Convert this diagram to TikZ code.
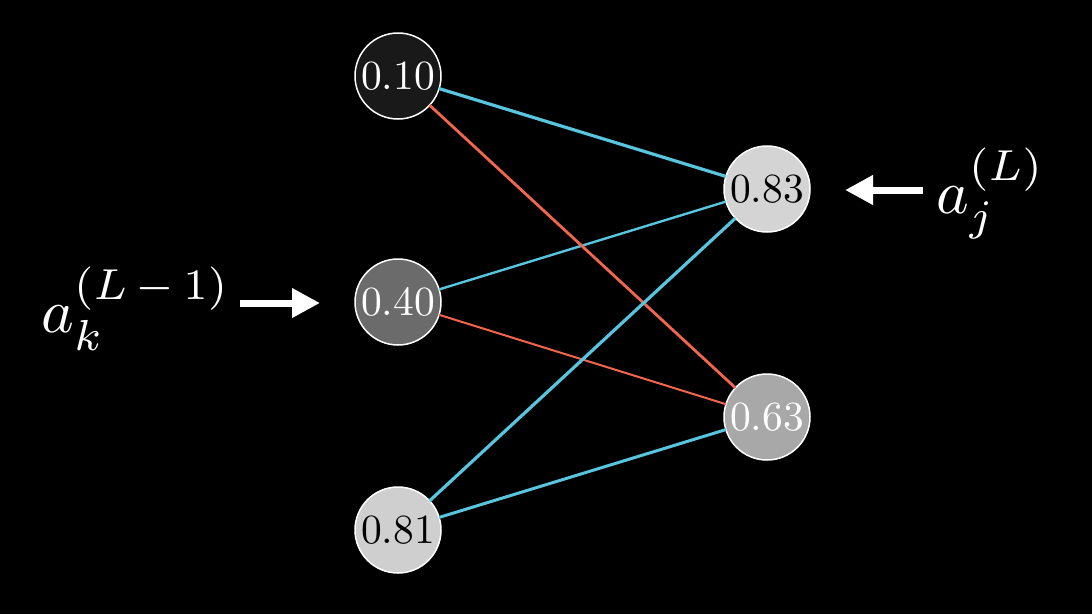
\documentclass[tikz,border=0pt]{standalone}
\usepackage{graphicx}
\usetikzlibrary{arrows.meta}
\definecolor{mblue}{HTML}{58C4DD}
\definecolor{mred}{HTML}{F2654E}
\tikzset{
  neuron/.style={circle, draw=white, line width=1.5pt, minimum size=86pt, inner sep=0pt, outer sep=0pt, font=\normalsize},
  wpos/.style={draw=mblue},
  wneg/.style={draw=mred},
  bigarrow/.style={draw=white, fill=white, line width=7pt, -{Triangle[length=28pt,width=28pt]}},
  biglabel/.style={text=white, inner sep=0pt, anchor=base west, font=\normalsize, scale=6.2, transform shape}
}
\newcommand{\nv}[1]{\scalebox{4.15}{#1}}
\begin{document}
\begin{tikzpicture}[x=1pt,y=-1pt]
\fill[black] (0,0) rectangle (1092,614);
\useasboundingbox (0,0) rectangle (1092,614);
\node[neuron, fill=black!90!white, text=white] (n1) at (398,76) {\nv{0.10}};
\node[neuron, fill=black!58!white, text=white] (n2) at (398,302) {\nv{0.40}};
\node[neuron, fill=black!19!white, text=black] (n3) at (398,530) {\nv{0.81}};
\node[neuron, fill=black!17!white, text=black] (m1) at (767,189) {\nv{0.83}};
\node[neuron, fill=black!34!white, text=white] (m2) at (767,417) {\nv{0.63}};
\draw[wpos, line width=3.2pt] (n1) -- (m1);
\draw[wpos, line width=2.4pt] (n2) -- (m1);
\draw[wneg, line width=2.8pt] (n1) -- (m2);
\draw[wneg, line width=2pt] (n2) -- (m2);
\draw[wpos, line width=3.2pt] (n3) -- (m1);
\draw[wpos, line width=3pt] (n3) -- (m2);
\node[biglabel] (lk) at (40,332) {$a_k^{(L\,-\,1)}$};
\node[biglabel] (lj) at (935,213) {$a_j^{(L)}$};
\coordinate (lka) at (240,303);
\coordinate (lkb) at (320,303);
\coordinate (lja) at (923,190);
\coordinate (ljb) at (845,190);
\draw[bigarrow] (lka) -- (lkb);
\draw[bigarrow] (lja) -- (ljb);
\end{tikzpicture}
\end{document}
